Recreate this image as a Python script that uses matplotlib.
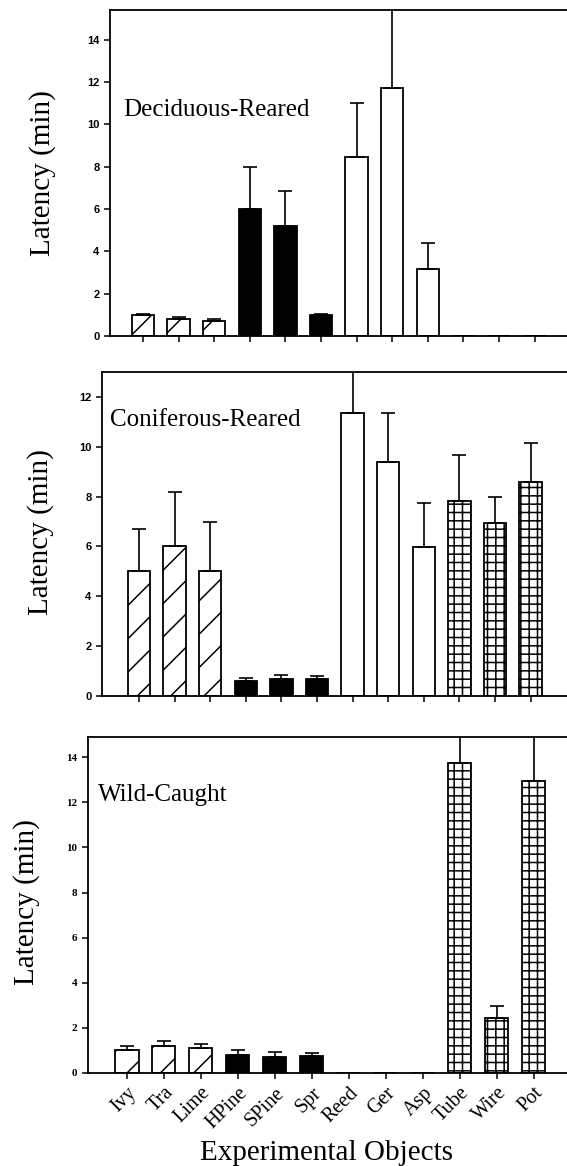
import matplotlib
matplotlib.use("Agg")
import matplotlib.pyplot as plt
import numpy as np

plt.rcParams['hatch.linewidth'] = 1.1

objects = ["Ivy", "Tra", "Lime", "HPine", "SPine", "Spr", "Reed", "Ger", "Asp", "Tube", "Wire", "Pot"]
groups = ["hatch", "hatch", "hatch", "black", "black", "black", "white", "white", "white", "grid", "grid", "grid"]

# mean latency (min) and standard error
dec_mean = [1.0, 0.8, 0.72, 6.0, 5.2, 0.97, 8.47, 11.7, 3.17, 0, 0, 0]
dec_se = [0.05, 0.1, 0.08, 2.0, 1.67, 0.08, 2.53, 4.5, 1.2, 0, 0, 0]

con_mean = [5.0, 6.0, 5.0, 0.6, 0.7, 0.67, 11.37, 9.37, 5.97, 7.84, 6.95, 8.57]
con_se = [1.7, 2.2, 2.0, 0.13, 0.15, 0.12, 2.2, 2.0, 1.78, 1.83, 1.02, 1.6]

wild_mean = [1.0, 1.2, 1.12, 0.8, 0.7, 0.77, 0, 0, 0, 13.75, 2.45, 12.93]
wild_se = [0.21, 0.22, 0.17, 0.22, 0.24, 0.1, 0, 0, 0, 2.0, 0.52, 2.5]

looks = {"hatch": dict(color="white", hatch="/"),
         "black": dict(color="black", hatch=None),
         "white": dict(color="white", hatch=None),
         "grid": dict(color="white", hatch="++")}

W, H = 567, 1166
fig = plt.figure(figsize=(W / 100, H / 100), dpi=100)

# (left px, top px, bottom px, xlim, ylim top, title, data, title pos, tick font, ylabel pos)
panels = [
    (110, 10, 336, (-0.93, 12.07), 15.4, "Deciduous-Reared", dec_mean, dec_se, (123, 110), 'Liberation Sans', 43, 173),
    (102, 372, 696, (-1.04, 12.18), 13.0, "Coniferous-Reared", con_mean, con_se, (110, 420), 'Liberation Sans', 41, 532),
    (88, 737, 1073, (-1.05, 12.05), 14.9, "Wild-Caught", wild_mean, wild_se, (98, 795), 'Liberation Serif', 27, 902),
]

x = np.arange(len(objects))
for i, (lp, tp, bp, xl, ytop, title, mean, se, tpos, tfont, ylx, yly) in enumerate(panels):
    ax = fig.add_axes([lp / W, 1 - bp / H, 1.01 - lp / W, (bp - tp) / H])
    for j in range(len(objects)):
        lk = looks[groups[j]]
        ax.bar(x[j], mean[j], width=0.63, color=lk["color"], hatch=lk["hatch"],
               edgecolor="black", linewidth=1.3, zorder=2)
        if se[j] > 0:
            ax.errorbar(x[j], mean[j], yerr=[[0], [se[j]]], fmt="none", ecolor="black",
                        elinewidth=1.2, capsize=5, capthick=1.2, zorder=3)
    ax.set_xlim(*xl)
    ax.set_ylim(0, ytop)
    ax.set_yticks(np.arange(0, ytop, 2))
    ax.set_xticks(x)
    for s in ax.spines.values():
        s.set_linewidth(1.3)
    ax.tick_params(direction="out", length=4, width=1.1)
    for lab in ax.get_yticklabels():
        lab.set_fontfamily(tfont)
        lab.set_fontweight("bold")
        lab.set_fontsize(8)
    ax.text(tpos[0] / W, 1 - tpos[1] / H, title, transform=fig.transFigure,
            family="Liberation Serif", fontsize=18, va="center", ha="left")
    fig.text(ylx / W, 1 - yly / H, "Latency (min)", rotation=90, family="Liberation Serif",
             fontsize=21, ha="center", va="center")
    if i < 2:
        ax.set_xticklabels([])
    else:
        ax.set_xticklabels(objects, rotation=45, ha="right", rotation_mode="anchor",
                           family="Liberation Serif", fontsize=14.5)

fig.text(326 / W, 1 - 1153 / H, "Experimental Objects", family="Liberation Serif",
         fontsize=21, ha="center", va="center")

fig.savefig("out.png", dpi=100)
